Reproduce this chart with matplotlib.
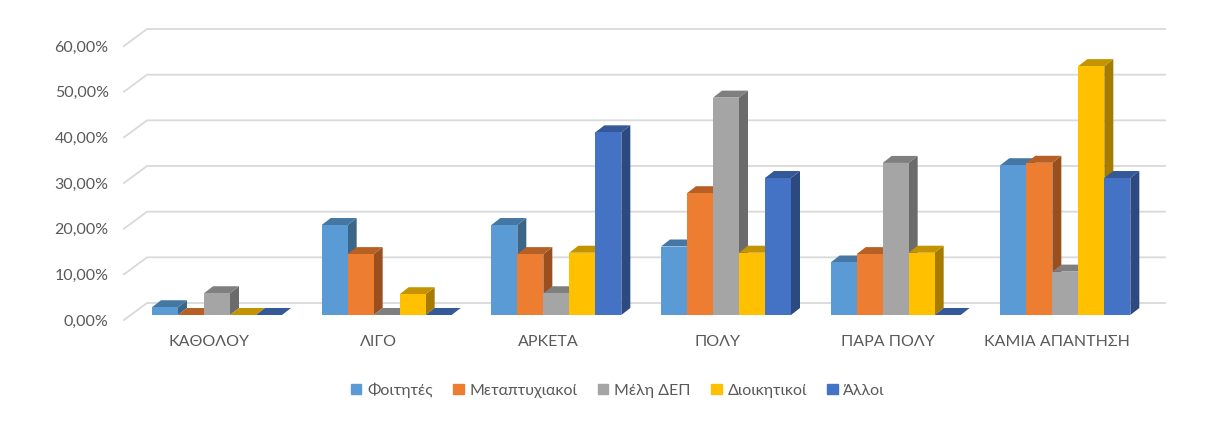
import matplotlib
matplotlib.use('Agg')
import matplotlib.pyplot as plt
from matplotlib.patches import Patch

plt.rcParams['font.family'] = ['Lato', 'Open Sans', 'DejaVu Sans']

categories = ['ΚΑΘΟΛΟΥ', 'ΛΙΓΟ', 'ΑΡΚΕΤΑ', 'ΠΟΛΥ', 'ΠΑΡΑ ΠΟΛΥ', 'ΚΑΜΙΑ ΑΠΑΝΤΗΣΗ']
series_names = ['Φοιτητές', 'Μεταπτυχιακοί', 'Μέλη ΔΕΠ', 'Διοικητικοί', 'Άλλοι']
foitites = [1.7, 19.7, 19.7, 15.0, 11.5, 32.8]
metaptyxiakoi = [0, 13.33, 13.33, 26.67, 13.33, 33.33]
meli_dep = [4.76, 0, 4.76, 47.6, 33.3, 9.5]
dioikitikoi = [0, 4.55, 13.64, 13.64, 13.64, 54.5]
alloi = [0, 0, 40.0, 30.0, 0, 30.0]
y_ticks = [0, 10, 20, 30, 40, 50, 60]
y_labels = ['0,00%', '10,00%', '20,00%', '30,00%', '40,00%', '50,00%', '60,00%']

all_series = [foitites, metaptyxiakoi, meli_dep, dioikitikoi, alloi]
front_colors = ['#5B9BD5', '#ED7D31', '#A5A5A5', '#FFC000', '#4472C4']
top_colors = ['#4577A5', '#B66025', '#7F7F7F', '#C49400', '#345898']
side_colors = ['#3B6688', '#9A4F1E', '#6B6B6B', '#A67C00', '#2C4A80']

W, H = 1229, 421
fig = plt.figure(figsize=(W / 100, H / 100), dpi=100, facecolor='white')
# axes box is the front plane of the 3d floor, in pixels of the reference
ax = fig.add_axes([124 / W, 1 - 320 / H, 1018 / W, 274 / H])
ax.set_xlim(0, 6)
ax.set_ylim(0, 60)

# pixel sizes in data units
px = 6 / 1018
py = 60 / 274

# back wall gridlines with the slanted bit on the floor side
wall_dx = 23 * px
wall_dy = 17 * py
for t in y_ticks:
    ax.plot([0, wall_dx, 6 + wall_dx], [t, t + wall_dy, t + wall_dy],
            color='#D9D9D9', lw=1.3, clip_on=False, zorder=1, solid_joinstyle='miter')

# bars with fake depth
bar_w = 26 * px
bar_start = 28 * px
base = 5 * py
depth_x = 9 * px
depth_y = 7 * py
z = 2
for g in range(len(categories)):
    for s, values in enumerate(all_series):
        v = values[g]
        x0 = g + bar_start + s * bar_w
        x1 = x0 + bar_w
        y0 = base
        y1 = base + v
        if v > 0:
            ax.fill([x1, x1 + depth_x, x1 + depth_x, x1],
                    [y0, y0 + depth_y, y1 + depth_y, y1],
                    color=side_colors[s], lw=0, clip_on=False, zorder=z)
        ax.fill([x0, x1, x1 + depth_x, x0 + depth_x],
                [y1, y1, y1 + depth_y, y1 + depth_y],
                color=top_colors[s], lw=0, clip_on=False, zorder=z)
        ax.bar(x0, v, width=bar_w, bottom=base, align='edge',
               color=front_colors[s], lw=0, clip_on=False, zorder=z)
        z += 1

ax.set_xticks([i + 0.5 for i in range(len(categories))])
ax.set_xticklabels(categories, fontsize=11.5, color='#595959')
ax.set_yticks(y_ticks)
ax.set_yticklabels(y_labels, fontsize=11.5, color='#595959')
ax.tick_params(axis='x', length=0, pad=11)
ax.tick_params(axis='y', length=0, pad=11)
for sp in ax.spines.values():
    sp.set_visible(False)
ax.patch.set_visible(False)

handles = [Patch(color=c, label=n) for c, n in zip(front_colors, series_names)]
fig.legend(handles=handles, ncol=5, loc='center', bbox_to_anchor=(618 / W, 1 - 390 / H),
           frameon=False, fontsize=11.5, labelcolor='#595959',
           handlelength=0.65, handleheight=0.65, handletextpad=0.35, columnspacing=1.3)

fig.savefig('out.png', dpi=100)
